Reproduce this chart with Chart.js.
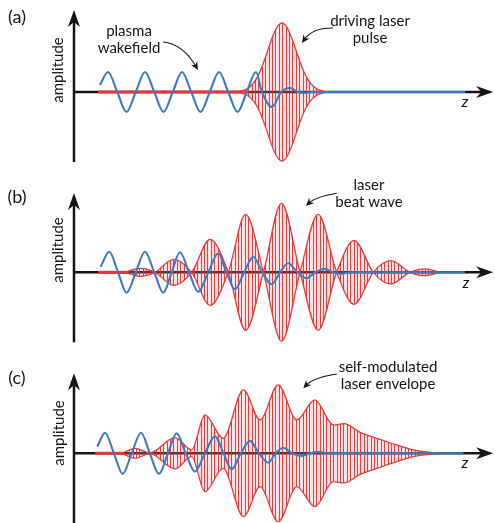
<!DOCTYPE html>
<html><head><meta charset="utf-8">
<script src="https://cdn.jsdelivr.net/npm/chart.js@4.4.0/dist/chart.umd.min.js"></script>
<style>
html,body{margin:0;padding:0;background:#fff;}
#wrap{position:relative;width:495px;height:523px;overflow:hidden;background:#fff;}
canvas{position:absolute;left:0;}
</style></head><body>
<div id="wrap">
<canvas id="ca" width="495" height="175" style="top:0px"></canvas>
<canvas id="cb" width="495" height="170" style="top:175px"></canvas>
<canvas id="cc" width="495" height="178" style="top:345px"></canvas>
</div>
<script>
// z in plasma wavelengths (0 = amplitude axis), amplitude in units of the wake amplitude
const Z_MIN = -2, Z_MAX = 11.38, Z_ARROW = 11.33;

// ---- (a) driving laser pulse ----
const wakeA_z = [0.70,0.92,1.17,1.42,1.67,1.92,2.17,2.42,2.67,2.92,3.17,3.42,3.67,3.92,4.17,4.42,4.67,4.92,5.08,5.35,5.60,5.84,6.05,6.24,6.43,10.57];
const wakeA   = [0.35,1.0,0,-1.0,0,1.0,0,-1.0,0,1.0,0,-1.0,0,1.0,0,-1.0,0,1.0,0,-0.75,0,0.2,0,-0.05,0,0];
const laserA_z = [4.42,4.52,4.62,4.72,4.82,4.92,5.02,5.12,5.22,5.32,5.42,5.52,5.62,5.72,5.82,5.92,6.02,6.12,6.22,6.32,6.42,6.52,6.62,6.72,6.82];
const laserA   = [0.01,0.05,0.11,0.21,0.38,0.63,0.99,1.45,1.98,2.53,3.00,3.33,3.45,3.33,3.00,2.53,1.98,1.45,0.99,0.63,0.38,0.21,0.11,0.05,0.01];
const redAxisA = [0.65, 4.62];

// ---- (b) laser beat wave ----
const wakeB_z = [0.72,0.954,1.19,1.424,1.67,1.919,2.17,2.414,2.64,2.865,3.11,3.36,3.63,3.90,4.12,4.35,4.60,4.846,5.09,5.343,5.57,5.79,6.04,6.289,6.53,6.78,7.00,7.235,7.50,10.57];
const wakeB   = [0.28,1.03,0,-1.02,0,1.03,0,-1.02,0,1.0,0,-0.98,0,0.95,0,-0.85,0,0.78,0,-0.6,0,0.45,0,-0.3,0,0.17,0,-0.08,0,0];
const laserB_z = [1.38,1.78,2.19,2.69,3.18,3.68,4.17,4.64,5.12,5.61,6.11,6.60,7.10,7.57,8.09,8.56,9.08,9.49,9.89];
const laserB   = [0,0.2,0,-0.65,0,1.65,0,-2.9,0,3.45,0,-2.9,0,1.6,0,-0.58,0,0.17,0];
const redAxisB = [0.65, 1.45];

// ---- (c) self-modulated laser envelope ----
const wakeC_z = [0.63,0.838,1.08,1.316,1.56,1.811,2.05,2.297,2.54,2.776,3.02,3.27,3.54,3.811,4.04,4.262,4.51,4.757,5.0,5.251,5.45,5.657,5.9,6.154,6.38,6.603,6.85,10.53];
const wakeC   = [0.33,1.03,0,-1.03,0,1.03,0,-1.03,0,1.0,0,-0.92,0,0.86,0,-0.8,0,0.62,0,-0.47,0,0.28,0,-0.13,0,0.07,0,0];
const laserC_z = [1.29,1.65,2.05,2.73,3.18,3.54,4.03,4.58,5.03,5.52,6.02,6.51,7.01,7.30,7.73,8.27,8.72,9.17,9.62,9.89];
const laserC   = [0,0.25,0.02,0.78,0.17,1.92,0.75,3.17,1.67,3.42,1.67,2.67,1.42,1.48,1.05,0.7,0.42,0.17,0.05,0];
const redAxisC = [0.57, 1.35];

// ---- text ----
const PANEL_LABELS = ['(a)','(b)','(c)'];
const NOTES_A1 = ['plasma','wakefield'];
const NOTES_A2 = ['driving laser','pulse'];
const NOTES_B  = ['laser','beat wave'];
const NOTES_C  = ['self-modulated','laser envelope'];
const Y_TITLE = 'amplitude';
const X_TITLE = 'z';

const RED = '#ee3434', BLUE = '#3b7cc4', INK = '#151515';
const FONT = 'Lato, "Open Sans", sans-serif';

function pts(zs, vs){ return zs.map((z,i)=>({x:z, y:vs[i]})); }

function makePattern(ctx){
  const c = document.createElement('canvas'); c.width = 17; c.height = 4;
  const g = c.getContext('2d');
  g.fillStyle = 'rgba(243,140,140,0.25)'; g.fillRect(0,0,17,4);
  g.fillStyle = 'rgba(236,42,42,0.9)';
  [0,3,7,10,14].forEach(x => g.fillRect(x,0,1,4));
  return ctx.createPattern(c,'repeat');
}

function stealth(ctx, tx, ty, ang, len, half, notch){
  ctx.save(); ctx.translate(tx,ty); ctx.rotate(ang);
  ctx.beginPath(); ctx.moveTo(0,0); ctx.lineTo(-len,-half); ctx.lineTo(-len+notch,0); ctx.lineTo(-len,half); ctx.closePath();
  ctx.fill(); ctx.restore();
}

function curvedArrow(ctx, a){
  const [x1,y1,cx,cy,x2,y2] = a;
  ctx.save(); ctx.strokeStyle = INK; ctx.fillStyle = INK; ctx.lineWidth = 1.1;
  const ang = Math.atan2(y2-cy, x2-cx);
  const ex = x2 - Math.cos(ang)*4, ey = y2 - Math.sin(ang)*4;
  ctx.beginPath(); ctx.moveTo(x1,y1); ctx.quadraticCurveTo(cx,cy,ex,ey); ctx.stroke();
  stealth(ctx, x2, y2, ang, 8, 3.6, 2.5);
  ctx.restore();
}

const deco = {
  id: 'deco',
  beforeDatasetsDraw(chart, args, o){
    const ctx = chart.ctx, xs = chart.scales.x, ys = chart.scales.y;
    const x0 = xs.getPixelForValue(0), y0 = ys.getPixelForValue(0);
    const xe = xs.getPixelForValue(Z_ARROW);
    const yt = ys.getPixelForValue(o.yTop), yb = ys.getPixelForValue(o.yBot);
    ctx.save();
    ctx.strokeStyle = INK; ctx.fillStyle = INK; ctx.lineWidth = 2.5;
    ctx.beginPath(); ctx.moveTo(x0, yb); ctx.lineTo(x0, yt + 10); ctx.stroke();
    ctx.beginPath(); ctx.moveTo(x0, y0); ctx.lineTo(xe - 10, y0); ctx.stroke();
    stealth(ctx, x0, yt, -Math.PI/2, 17, 6, 5);
    stealth(ctx, xe, y0, 0, 17, 6, 5);
    ctx.restore();
  },
  afterDatasetsDraw(chart, args, o){
    const ctx = chart.ctx;
    ctx.save();
    ctx.fillStyle = INK; ctx.textAlign = 'center'; ctx.textBaseline = 'middle';
    ctx.font = '18px ' + FONT;
    ctx.fillText(o.label, o.labelPos[0], o.labelPos[1]);
    ctx.font = '15px ' + FONT;
    o.notes.forEach(n => { n.lines.forEach((t,i) => ctx.fillText(t, n.x, n.y + i*17)); });
    ctx.save(); ctx.translate(o.ytPos[0], o.ytPos[1]); ctx.rotate(-Math.PI/2);
    ctx.fillText(Y_TITLE, 0, 0); ctx.restore();
    ctx.font = 'italic 16px ' + FONT;
    ctx.fillText(X_TITLE, o.zPos[0], o.zPos[1]);
    ctx.restore();
    o.arrows.forEach(a => curvedArrow(ctx, a));
  }
};

function panel(id, p){
  const canvas = document.getElementById(id);
  const ctx = canvas.getContext('2d');
  const common = {pointRadius:0, pointHoverRadius:0, cubicInterpolationMode:'monotone'};
  new Chart(ctx, {
    type: 'line',
    data: { datasets: [
      Object.assign({data: pts(p.wz, p.w), borderColor: BLUE, borderWidth: 2.1, fill: false}, common),
      Object.assign({data: pts(p.lz, p.l), borderColor: RED, borderWidth: 1.3, fill: '+1', backgroundColor: makePattern(ctx)}, common),
      Object.assign({data: pts(p.lz, p.l.map(v => -v)), borderColor: RED, borderWidth: 1.3, fill: false}, common),
      {data: [{x:p.r[0], y:0}, {x:p.r[1], y:0}], borderColor: RED, borderWidth: 3, pointRadius: 0, fill: false}
    ]},
    options: {
      responsive: false, animation: false, events: [],
      layout: {padding: 0},
      plugins: {legend: {display: false}, tooltip: {enabled: false}, deco: p.deco},
      scales: {
        x: {type: 'linear', min: Z_MIN, max: Z_MAX, display: false},
        y: {type: 'linear', min: p.ymin, max: p.ymax, display: false}
      }
    },
    plugins: [deco]
  });
}

panel('ca', {wz: wakeA_z, w: wakeA, lz: laserA_z, l: laserA, r: redAxisA, ymin: -4.15, ymax: 4.6,
  deco: {yTop: 4.1, yBot: -3.5, label: PANEL_LABELS[0], labelPos: [17,17],
    notes: [{x:129, y:31, lines: NOTES_A1}, {x:370, y:21, lines: NOTES_A2}],
    ytPos: [58, 70], zPos: [465, 102],
    arrows: [[163,42,183,44,198,70],[333,28,312.5,27.6,302,43]]}});

panel('cb', {wz: wakeB_z, w: wakeB, lz: laserB_z, l: laserB, r: redAxisB, ymin: -3.635, ymax: 4.865,
  deco: {yTop: 3.97, yBot: -3.5, label: PANEL_LABELS[1], labelPos: [17,22],
    notes: [{x:369, y:10, lines: NOTES_B}],
    ytPos: [58, 75], zPos: [466, 108],
    arrows: [[336.7,18.3,315.3,22,306,31]]}});

panel('cc', {wz: wakeC_z, w: wakeC, lz: laserC_z, l: laserC, r: redAxisC, ymin: -3.485, ymax: 5.415,
  deco: {yTop: 4.0, yBot: -3.6, label: PANEL_LABELS[2], labelPos: [17,33],
    notes: [{x:388, y:22, lines: NOTES_C}],
    ytPos: [59, 88], zPos: [465, 118],
    arrows: [[336.7,29,313.4,32.5,303.3,43.3]]}});
</script>
</body></html>
